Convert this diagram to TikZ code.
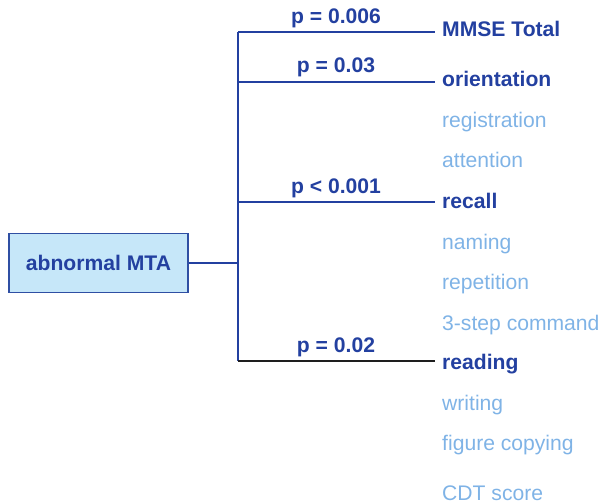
\documentclass[tikz,border=0pt]{standalone}
\usepackage{fontspec}
\setmainfont{Liberation Sans}
\definecolor{navy}{HTML}{2340A0}
\definecolor{pale}{HTML}{7FB3E6}
\definecolor{boxfill}{HTML}{C6E7F9}
\definecolor{boxline}{HTML}{2F4FA3}
\definecolor{ink}{HTML}{1E1E1E}
\begin{document}
\begin{tikzpicture}[x=1bp,y=-1bp]
\useasboundingbox (0,0) rectangle (601,504);
\tikzset{
  txt/.style={font=\fontsize{21.2}{25}\selectfont},
  item/.style={txt, anchor=base west, inner sep=0pt},
  hit/.style={item, text=navy, font=\fontsize{21.2}{25}\selectfont\bfseries},
  miss/.style={item, text=pale},
  pval/.style={anchor=base, inner sep=0pt, text=navy, font=\fontsize{21.2}{25}\selectfont\bfseries},
  link/.style={draw=navy, line width=2bp},
}
% source box
\node[draw=boxline, fill=boxfill, line width=1.5bp, minimum width=179bp,
      minimum height=59bp, inner sep=0pt, text=navy,
      font=\fontsize{21.2}{25}\selectfont\bfseries] (mta) at (98.5,263) {abnormal MTA};

% outcome list
\node[hit]  (mmse)  at (442,37)  {MMSE Total};
\node[hit]  (orient) at (442,87) {orientation};
\node[miss] (regis) at (442,128) {registration};
\node[miss] (atten) at (442,168) {attention};
\node[hit]  (recall) at (442,209) {recall};
\node[miss] (naming) at (442,249) {naming};
\node[miss] (repet) at (442,289) {repetition};
\node[miss] (cmd)   at (442,330) {3-step command};
\node[hit]  (read)  at (442,369) {reading};
\node[miss] (write) at (442,410) {writing};
\node[miss] (copy)  at (442,450) {figure copying};
\node[miss] (cdt)   at (442,500) {CDT score};

% p-values
\node[pval] (p1) at (336,24)  {p = 0.006};
\node[pval] (p2) at (336,73)  {p = 0.03};
\node[pval] (p3) at (336,194) {p < 0.001};
\node[pval] (p4) at (336,352) {p = 0.02};

% branch points on the trunk and line ends
\coordinate (b1) at (238,32);
\coordinate (b2) at (238,82);
\coordinate (b3) at (238,202);
\coordinate (b4) at (238,361);
\coordinate (e1) at (435,32);
\coordinate (e2) at (435,82);
\coordinate (e3) at (435,202);
\coordinate (e4) at (435,361);
\coordinate (hub) at (mta.east -| b1);

\draw[link] (mta.east) -- (hub);
\draw[link] (b1) -- (b4);
\draw[link] (b1) -- (e1);
\draw[link] (b2) -- (e2);
\draw[link] (b3) -- (e3);
\draw[draw=ink, line width=2bp] (b4) -- (e4);
\end{tikzpicture}
\end{document}
